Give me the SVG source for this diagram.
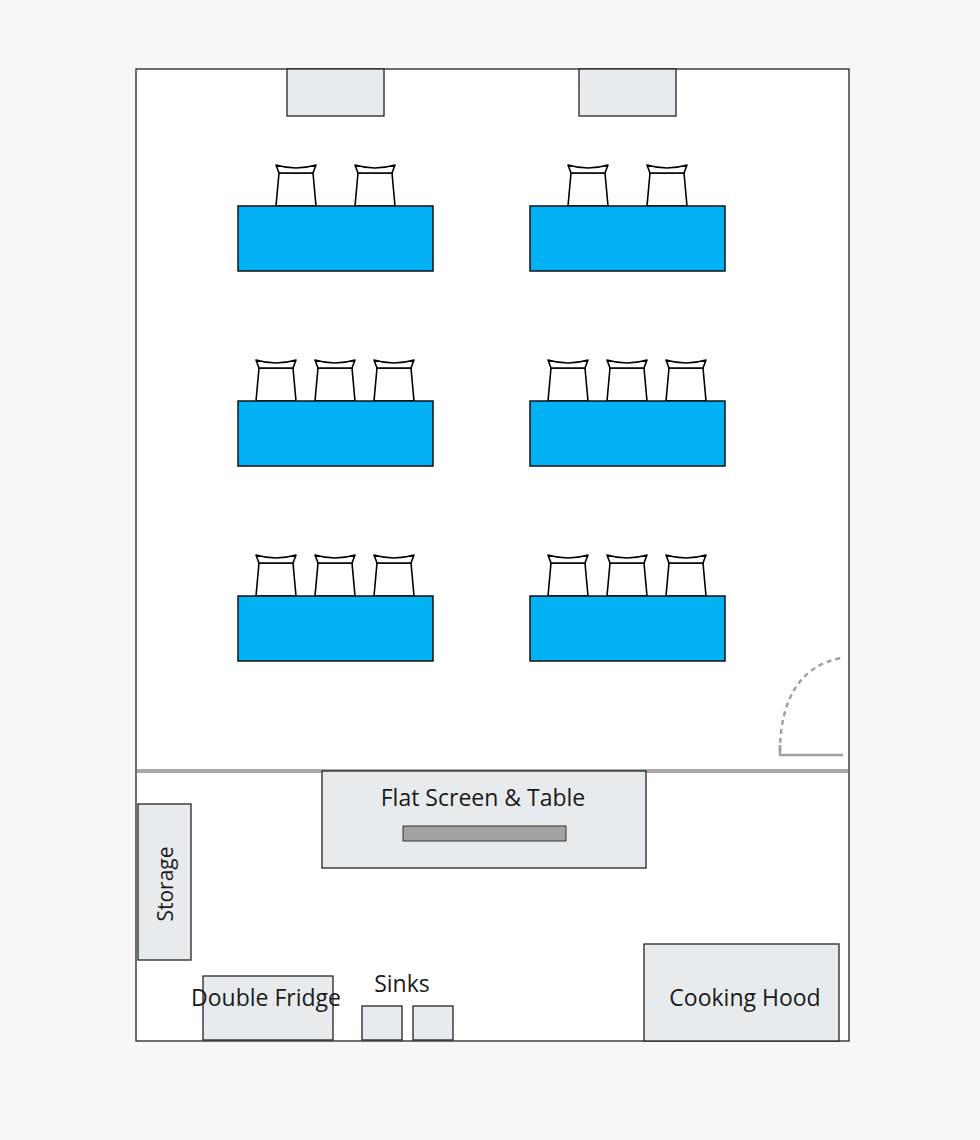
<svg xmlns="http://www.w3.org/2000/svg" xmlns:xlink="http://www.w3.org/1999/xlink" width="980" height="1140" viewBox="0 0 980 1140">
<style>
.box{fill:#e8ebee;stroke:#222;stroke-width:1.3}
.tbl{fill:#02b0f4;stroke:#111;stroke-width:1.5}
.lbl{font-family:"Open Sans",sans-serif;font-size:23px;fill:#1a1a1a;text-anchor:middle}
</style>
<defs>
<g id="chair" fill="#fff" stroke="#000" stroke-width="1.6" stroke-linejoin="round">
<path d="M5,11 L2,44 L42,44 L39,11 Z"/>
<path d="M2,3 Q22,9 42,3 L39,11 L5,11 Z"/>
</g>
</defs>
<rect width="980" height="1140" fill="#f7f7f7"/>
<rect x="136" y="69" width="713" height="972" fill="#fff" stroke="#222" stroke-width="1.3"/>
<g id="top-boxes"><rect class="box" x="287" y="69" width="97" height="47"/><rect class="box" x="579" y="69" width="97" height="47"/></g>
<g id="chairs">
<use href="#chair" x="274" y="162"/><use href="#chair" x="353" y="162"/>
<use href="#chair" x="566" y="162"/><use href="#chair" x="645" y="162"/>
<use href="#chair" x="254" y="357"/><use href="#chair" x="313" y="357"/><use href="#chair" x="372" y="357"/>
<use href="#chair" x="546" y="357"/><use href="#chair" x="605" y="357"/><use href="#chair" x="664" y="357"/>
<use href="#chair" x="254" y="552"/><use href="#chair" x="313" y="552"/><use href="#chair" x="372" y="552"/>
<use href="#chair" x="546" y="552"/><use href="#chair" x="605" y="552"/><use href="#chair" x="664" y="552"/>
</g>
<g id="tables">
<rect class="tbl" x="238" y="206" width="195" height="65"/><rect class="tbl" x="530" y="206" width="195" height="65"/>
<rect class="tbl" x="238" y="401" width="195" height="65"/><rect class="tbl" x="530" y="401" width="195" height="65"/>
<rect class="tbl" x="238" y="596" width="195" height="65"/><rect class="tbl" x="530" y="596" width="195" height="65"/>
</g>
<g id="door" fill="none" stroke="#a0a0a0" stroke-width="2.5">
<path d="M780,752 C780,700 800,665 842,658" stroke-dasharray="5,4"/>
<path d="M780,745 L780,755 L843,755"/>
</g>
<line x1="137" y1="771" x2="848" y2="771" stroke="#aaa" stroke-width="4"/>
<g id="screen"><rect class="box" x="322" y="771" width="324" height="97"/><rect x="403" y="826" width="163" height="15" fill="#a3a3a3" stroke="#333" stroke-width="1"/><text class="lbl" x="483" y="806">Flat Screen &amp; Table</text></g>
<g id="storage"><rect class="box" x="138" y="804" width="53" height="156"/><text class="lbl" transform="translate(165,884) rotate(-90)" y="8" style="font-size:21px">Storage</text></g>
<g id="fridge"><rect class="box" x="203" y="976" width="130" height="64"/><text class="lbl" x="266" y="1006">Double Fridge</text></g>
<g id="sinks"><text class="lbl" x="402" y="992">Sinks</text><rect class="box" x="362" y="1006" width="40" height="34"/><rect class="box" x="413" y="1006" width="40" height="34"/></g>
<g id="hood"><rect class="box" x="644" y="944" width="195" height="97"/><text class="lbl" x="745" y="1006">Cooking Hood</text></g>
</svg>
